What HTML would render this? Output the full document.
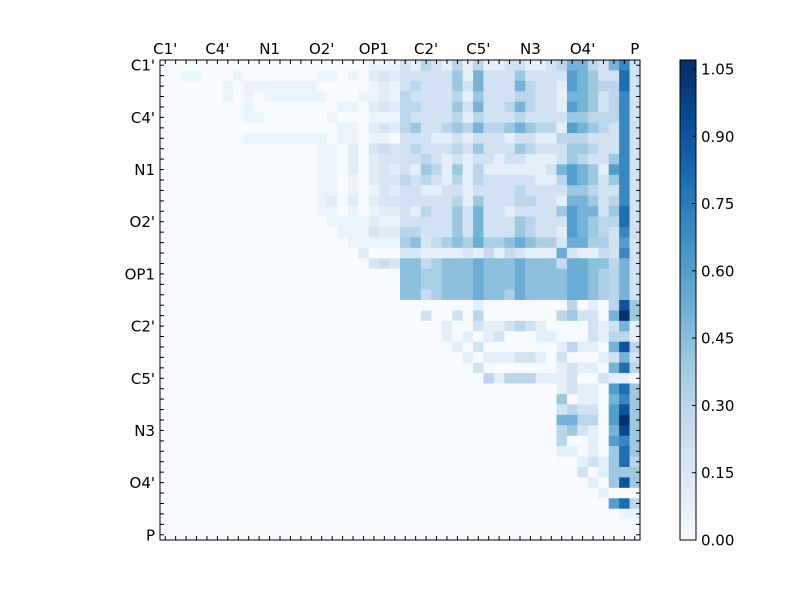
<!DOCTYPE html>
<html><head><meta charset="utf-8"><style>
html,body{margin:0;padding:0;background:#fff;width:800px;height:600px;overflow:hidden}
text{font-family:"DejaVu Sans","Liberation Sans",sans-serif;font-size:15px;fill:#000}
</style></head><body>
<svg id="s" width="800" height="600" xmlns="http://www.w3.org/2000/svg">
<defs><linearGradient id="cb" x1="0" y1="1" x2="0" y2="0">
<stop offset="0" stop-color="#f7fbff"/><stop offset="0.1226" stop-color="#deebf7"/><stop offset="0.245" stop-color="#c6dbef"/><stop offset="0.368" stop-color="#9ecae1"/><stop offset="0.49" stop-color="#6baed6"/><stop offset="0.613" stop-color="#4292c6"/><stop offset="0.736" stop-color="#2171b5"/><stop offset="0.858" stop-color="#08519c"/><stop offset="0.98" stop-color="#08306b"/><stop offset="1" stop-color="#08306b"/></linearGradient></defs>
<g id="cells"></g>
<rect x="160" y="60" width="480" height="480" fill="none" stroke="#000" stroke-width="1"/>
<g id="ticks" stroke="#000" stroke-width="1"></g>
<g id="labels"></g>
<rect x="680" y="60" width="16" height="480" fill="url(#cb)" stroke="#000" stroke-width="1"/>
<g id="cbt" stroke="#000"></g>
</svg>
<script>
var N=46,cs=480/46;
var TL=[
"00000000000000000000111",
"00110001000000011010232",
"00000010111111100000121",
"00000010101111110001121",
"00000000100000000110232",
"00000000110000001000111",
"00000000000000000110232",
"00000000111111110110110",
"00000000000000011020343",
"00000000000000011020233",
"00000000000000011020232",
"00000000000000011010233",
"00000000000000011010132",
"00000000000000012020233",
"00000000000000011010122",
"00000000000000001111211",
"00000000000000000111322",
"00000000000000000011111",
"00000000000000000002000",
"00000000000000000000343",
"00000000000000000000000",
"00000000000000000000000",
"00000000000000000000000"];
var TR=[
[2,1,3,2,1,3,1,3,1,1,2,2,1,1,2,3,5,5,3,2,5,7,2],
[2,2,2,2,2,4,1,5,2,2,2,4,2,2,2,2,6,5,4,2,2,8,2],
[2,3,2,2,2,4,2,5,2,2,2,5,3,2,2,1,6,5,4,3,3,8,2],
[3,2,2,2,2,3,1,4,2,2,2,3,3,2,2,1,5,5,4,2,3,7,2],
[3,3,2,2,2,4,2,5,2,2,3,5,3,2,2,1,6,5,4,2,3,7,2],
[3,2,2,2,2,3,1,3,2,2,2,3,2,2,2,2,4,4,3,3,3,7,2],
[3,4,2,2,3,4,3,5,3,3,4,5,4,3,3,1,6,5,4,3,2,7,2],
[2,2,2,1,1,2,1,2,2,2,1,2,2,1,1,3,3,3,2,2,2,7,2],
[2,3,2,2,2,3,2,4,2,2,2,4,3,2,2,2,4,4,3,2,2,7,2],
[2,2,3,2,1,2,1,2,2,1,2,2,1,1,1,2,4,3,2,2,4,7,2],
[2,1,4,3,1,4,1,3,1,1,1,1,1,1,2,5,6,5,4,1,6,7,2],
[3,2,3,2,1,3,1,3,2,2,2,2,2,1,1,3,6,5,4,2,4,7,2],
[2,2,1,1,2,2,1,2,2,2,2,3,2,2,2,2,4,4,3,2,2,7,2],
[2,2,2,2,2,3,1,4,2,2,2,3,3,2,2,1,5,5,4,2,3,7,2],
[2,1,3,2,2,4,2,5,2,2,1,2,2,2,2,4,6,5,5,2,4,8,2],
[2,2,2,2,2,4,2,5,2,2,2,4,3,2,2,2,6,5,4,3,3,8,2],
[3,3,2,2,2,4,2,5,2,2,2,4,3,2,2,1,6,5,4,3,2,7,2],
[4,5,2,3,4,5,4,6,4,4,5,6,5,4,4,2,6,6,4,4,2,6,2],
[2,2,1,1,1,1,2,1,3,1,3,2,1,1,1,6,2,1,1,3,2,7,2],
[5,5,3,4,5,5,5,6,5,5,5,6,5,5,5,3,6,6,5,5,3,5,2],
[5,5,4,4,5,5,5,6,5,5,5,6,5,5,5,5,6,6,5,4,3,5,2],
[5,5,4,4,5,5,5,6,5,5,5,6,5,5,5,5,6,6,5,4,3,5,2],
[5,5,3,4,5,5,5,6,5,5,4,6,5,5,5,5,6,6,5,4,3,5,2]];
var BR=[
[0,0,0,0,0,0,0,1,0,0,0,0,0,0,0,0,3,0,1,0,3,9,4],
[0,0,2,0,0,2,0,3,0,0,0,0,0,0,0,3,4,2,2,0,5,10.5,4],
[0,0,0,0,1,0,0,2,1,1,2,3,2,1,0,0,0,0,2,1,2,5,1],
[0,0,0,0,1,0,1,0,1,2,0,0,0,1,1,0,0,0,2,1,3,3,1],
[0,0,0,0,0,1,0,2,0,0,0,0,0,0,0,1,3,1,1,0,5,9,3],
[0,0,0,0,0,0,1,0,1,1,1,2,2,1,0,2,0,0,0,1,2,5,2],
[0,0,0,0,0,0,0,2,0,0,0,0,0,0,0,1,2,1,1,0,5,8,3],
[0,0,0,0,0,0,0,0,3,1,3,3,3,1,1,1,2,0,0,2,1,1,0],
[0,0,0,0,0,0,0,0,0,0,0,0,0,0,0,1,2,1,1,0,6,8,4],
[0,0,0,0,0,0,0,0,0,0,0,0,0,0,0,4,0,1,1,0,5,7,4],
[0,0,0,0,0,0,0,0,0,0,0,0,0,0,0,2,3,2,2,0,6,9,4],
[0,0,0,0,0,0,0,0,0,0,0,0,0,0,0,5,5,3,3,0,6,10.5,4],
[0,0,0,0,0,0,0,0,0,0,0,0,0,0,0,3,4,2,1,0,5,9.5,4],
[0,0,0,0,0,0,0,0,0,0,0,0,0,0,0,3,0,0,1,0,6,7,4],
[0,0,0,0,0,0,0,0,0,0,0,0,0,0,0,1,1,0,1,0,4,8,4],
[0,0,0,0,0,0,0,0,0,0,0,0,0,0,0,0,0,1,2,1,4,8,3],
[0,0,0,0,0,0,0,0,0,0,0,0,0,0,0,0,0,2,0,1,4,4,4],
[0,0,0,0,0,0,0,0,0,0,0,0,0,0,0,0,0,0,1,0,4,9,4],
[0,0,0,0,0,0,0,0,0,0,0,0,0,0,0,0,0,0,0,1,0,0,0],
[0,0,0,0,0,0,0,0,0,0,0,0,0,0,0,0,0,0,0,0,6,8,3],
[0,0,0,0,0,0,0,0,0,0,0,0,0,0,0,0,0,0,0,0,0,0.5,0.5],
[0,0,0,0,0,0,0,0,0,0,0,0,0,0,0,0,0,0,0,0,0,0,0],
[0,0,0,0,0,0,0,0,0,0,0,0,0,0,0,0,0,0,0,0,0,0,0]];
var stops=[[247,251,255],[222,235,247],[198,219,239],[158,202,225],[107,174,214],[66,146,198],[33,113,181],[8,81,156],[8,48,107]];
function col(v){var t=Math.max(0,Math.min(1,v/1.05))*8;var i=Math.min(7,Math.floor(t)),f=t-i;var a=stops[i],b=stops[i+1];
return "rgb("+[0,1,2].map(function(k){return Math.round(a[k]+(b[k]-a[k])*f)}).join(",")+")";}
var g=document.getElementById("cells"),h="";
for(var r=0;r<N;r++)for(var c=0;c<N;c++){var v=0;
 if(r<23&&c<23)v=(+TL[r][c])*0.1*0.6;
 else if(r<23){v=TR[r][c-23]*0.1; if(r>=17&&c<43)v*=0.88;}
 else if(c>=23)v=BR[r-23][c-23]*0.1;
 h+='<rect x="'+(160+c*cs).toFixed(2)+'" y="'+(60+r*cs).toFixed(2)+'" width="'+(cs+0.6).toFixed(2)+'" height="'+(cs+0.6).toFixed(2)+'" fill="'+col(v)+'"/>';}
g.innerHTML=h;
var t="";for(var i=0;i<N;i++){var p=(160+(i+0.5)*cs).toFixed(2),q=(60+(i+0.5)*cs).toFixed(2);
 t+='<line x1="'+p+'" y1="60" x2="'+p+'" y2="64"/><line x1="'+p+'" y1="540" x2="'+p+'" y2="536"/>';
 t+='<line x1="160" y1="'+q+'" x2="164" y2="'+q+'"/><line x1="640" y1="'+q+'" x2="636" y2="'+q+'"/>';}
document.getElementById("ticks").innerHTML=t;
var L=["C1'","C4'","N1","O2'","OP1","C2'","C5'","N3","O4'","P"],l="";
for(var i=0;i<10;i++){var p=160+(i*5+0.5)*cs,q=60+(i*5+0.5)*cs;
 l+='<text x="'+p.toFixed(1)+'" y="54" text-anchor="middle">'+L[i]+'</text>';
 l+='<text x="155" y="'+(q+5.5).toFixed(1)+'" text-anchor="end">'+L[i]+'</text>';}
var cb=["0.00","0.15","0.30","0.45","0.60","0.75","0.90","1.05"],ct="";
for(var i=0;i<8;i++){var y=540-i*0.15*448.6;
 ct+='<line x1="692" y1="'+y.toFixed(1)+'" x2="696" y2="'+y.toFixed(1)+'"/>';
 l+='<text x="701" y="'+(y+5.5).toFixed(1)+'">'+cb[i]+'</text>';}
document.getElementById("labels").innerHTML=l;
document.getElementById("cbt").innerHTML=ct;
</script>
</body></html>
